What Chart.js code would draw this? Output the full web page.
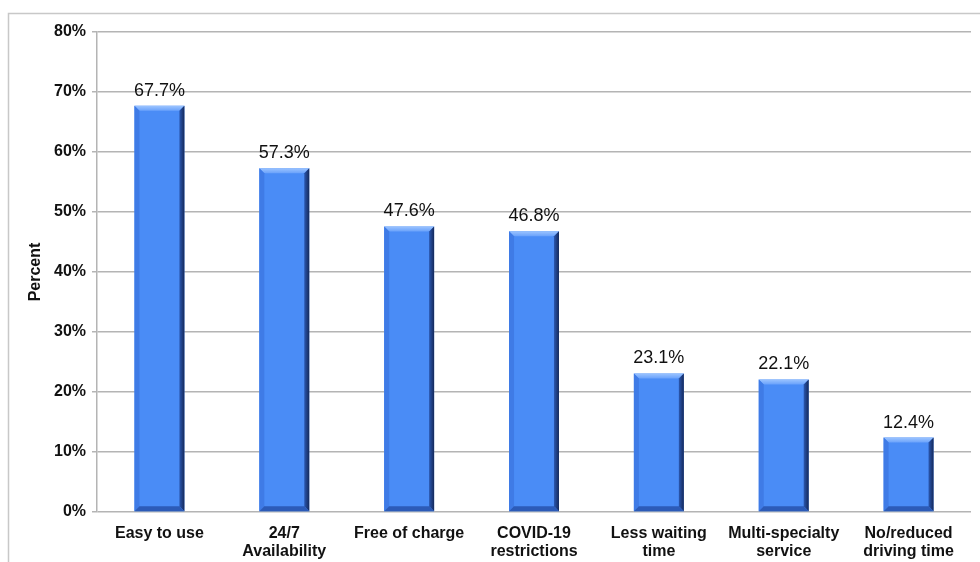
<!DOCTYPE html>
<html>
<head>
<meta charset="utf-8">
<script src="https://cdn.jsdelivr.net/npm/chart.js@4/dist/chart.umd.min.js"></script>
<style>
  html, body { margin: 0; padding: 0; background: #fff; }
  #wrap { width: 980px; height: 562px; position: relative; }
</style>
</head>
<body>
<div id="wrap"><canvas id="chart"></canvas></div>
<script>
// categories and values
var categories = [
  "Easy to use",
  ["24/7", "Availability"],
  "Free of charge",
  ["COVID-19", "restrictions"],
  ["Less waiting", "time"],
  ["Multi-specialty", "service"],
  ["No/reduced", "driving time"]
];
var percents = [67.7, 57.3, 47.6, 46.8, 23.1, 22.1, 12.4];
var yTicks = [0, 10, 20, 30, 40, 50, 60, 70, 80];

// outer frame like the office chart border
var framePlugin = {
  id: 'frame',
  beforeDraw: function(chart) {
    var c = chart.ctx;
    c.save();
    c.strokeStyle = '#c8c8c8';
    c.lineWidth = 1.5;
    c.beginPath();
    c.moveTo(8.5, 562);
    c.lineTo(8.5, 13.5);
    c.lineTo(980, 13.5);
    c.stroke();
    c.restore();
  }
};

// bevelled bars + value labels
var bevelPlugin = {
  id: 'bevel',
  afterDatasetsDraw: function(chart) {
    var c = chart.ctx;
    var meta = chart.getDatasetMeta(0);
    c.save();
    meta.data.forEach(function(bar, i) {
      var w = bar.width;
      var l = bar.x - w / 2, r = bar.x + w / 2;
      var t = bar.y, b = bar.base;
      var d = 5;
      // top
      var gt = c.createLinearGradient(0, t, 0, t + d);
      gt.addColorStop(0, '#9cc4ff');
      gt.addColorStop(1, '#6aa2fb');
      c.fillStyle = gt;
      c.beginPath();
      c.moveTo(l, t); c.lineTo(r, t); c.lineTo(r - d, t + d); c.lineTo(l + d, t + d);
      c.closePath(); c.fill();
      // left
      c.fillStyle = '#3f7be6';
      c.beginPath();
      c.moveTo(l, t); c.lineTo(l + d, t + d); c.lineTo(l + d, b - d); c.lineTo(l, b);
      c.closePath(); c.fill();
      // right
      var g = c.createLinearGradient(r - d, 0, r, 0);
      g.addColorStop(0, '#2a57b0');
      g.addColorStop(1, '#15295a');
      c.fillStyle = g;
      c.beginPath();
      c.moveTo(r, t); c.lineTo(r, b); c.lineTo(r - d, b - d); c.lineTo(r - d, t + d);
      c.closePath(); c.fill();
      // bottom
      c.fillStyle = '#2c5bb8';
      c.beginPath();
      c.moveTo(l, b); c.lineTo(r, b); c.lineTo(r - d, b - d); c.lineTo(l + d, b - d);
      c.closePath(); c.fill();

      c.fillStyle = '#111';
      c.font = '18px "Liberation Sans", Arial, sans-serif';
      c.textAlign = 'center';
      c.textBaseline = 'bottom';
      c.fillText(percents[i].toFixed(1) + '%', bar.x, t - 6);
    });
    c.restore();
  }
};

new Chart(document.getElementById('chart'), {
  type: 'bar',
  data: {
    labels: categories,
    datasets: [{
      data: percents,
      backgroundColor: '#4a8cf6',
      borderWidth: 0,
      categoryPercentage: 1,
      barPercentage: 0.4
    }]
  },
  options: {
    responsive: true,
    maintainAspectRatio: false,
    animation: false,
    devicePixelRatio: 1,
    layout: { padding: { left: 10, right: 9, top: 32, bottom: 0 } },
    plugins: {
      legend: { display: false },
      tooltip: { enabled: false }
    },
    scales: {
      x: {
        grid: { display: false },
        border: { display: false },
        ticks: {
          color: '#111',
          maxRotation: 0,
          autoSkip: false,
          padding: 4,
          font: { family: '"Liberation Sans", Arial, sans-serif', size: 16, weight: 'bold', lineHeight: 1.15 }
        },
        afterFit: function(s) { s.height = 50; }
      },
      y: {
        min: 0,
        max: 80,
        afterBuildTicks: function(s) {
          s.ticks = yTicks.map(function(v) { return { value: v }; });
        },
        grid: { color: '#b4b4b4', lineWidth: 1.5, tickLength: 5 },
        border: { color: '#b4b4b4', width: 1.5 },
        ticks: {
          color: '#111',
          padding: 6,
          callback: function(v) { return v + '%'; },
          font: { family: '"Liberation Sans", Arial, sans-serif', size: 16, weight: 'bold' }
        },
        title: {
          display: true,
          text: 'Percent',
          color: '#111',
          padding: { top: 16, bottom: 0 },
          font: { family: '"Liberation Sans", Arial, sans-serif', size: 16, weight: 'bold' }
        },
        afterFit: function(s) { s.width = 87; }
      }
    }
  },
  plugins: [framePlugin, bevelPlugin]
});
</script>
</body>
</html>
